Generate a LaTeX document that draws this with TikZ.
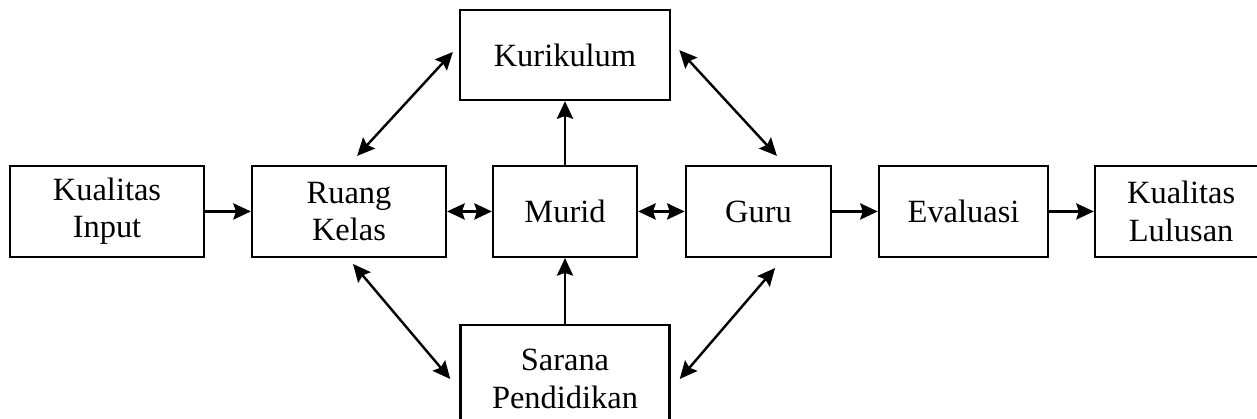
\documentclass[tikz,border=0pt]{standalone}
\usepackage{fontspec}
\setmainfont{Liberation Serif}
\usetikzlibrary{arrows.meta}

\begin{document}
\begin{tikzpicture}[
  kotak/.style={draw, line width=0.9pt, align=center, minimum height=1.18cm,
    inner sep=0pt, font=\fontsize{12pt}{13.8pt}\selectfont},
  panah/.style={line width=0.9pt, ->},
  >={Stealth[length=6.5pt,width=6pt,inset=1pt]}
]
\useasboundingbox (0,0) rectangle (16.341,5.447);
\clip (0,0) rectangle (16.341,5.447);
% middle row
\node[kotak, minimum width=2.52cm] (kin) at (1.391,2.698) {Kualitas\\Input};
\node[kotak, minimum width=2.52cm] (ruang) at (4.537,2.698) {Ruang\\Kelas};
\node[kotak, minimum width=1.87cm] (murid) at (7.345,2.698) {Murid};
\node[kotak, minimum width=1.89cm] (guru) at (9.861,2.698) {Guru};
\node[kotak, minimum width=2.20cm] (eval) at (12.526,2.698) {Evaluasi};
\node[kotak, minimum width=2.24cm] (klu) at (15.355,2.698) {Kualitas\\Lulusan};
% top and bottom
\node[kotak, minimum width=2.73cm, minimum height=1.17cm] (kur) at (7.345,4.732) {Kurikulum};
\node[kotak, minimum width=2.72cm, minimum height=1.40cm] (sar) at (7.345,0.52) {Sarana\\Pendidikan};
% arrows
\draw[panah] (kin) -- (ruang);
\draw[panah, <->] (ruang) -- (murid);
\draw[panah, <->] (murid) -- (guru);
\draw[panah] (guru) -- (eval);
\draw[panah] (eval) -- (klu);
\draw[panah] (murid) -- (kur);
\draw[panah] (sar) -- (murid);
\draw[panah, <->] ([xshift=-2.2pt,yshift=1.1pt]kur.west) -- ([xshift=3pt,yshift=3.3pt]ruang.north);
\draw[panah, <->] ([xshift=3pt,yshift=1.8pt]kur.east) -- ([xshift=6.8pt,yshift=3.3pt]guru.north);
\draw[panah, <->] ([xshift=1.5pt,yshift=-2.2pt]ruang.south) -- ([xshift=-3.3pt]sar.west);
\draw[panah, <->] ([xshift=6.1pt,yshift=-3.7pt]guru.south) -- ([xshift=3.3pt]sar.east);
\end{tikzpicture}
\end{document}
